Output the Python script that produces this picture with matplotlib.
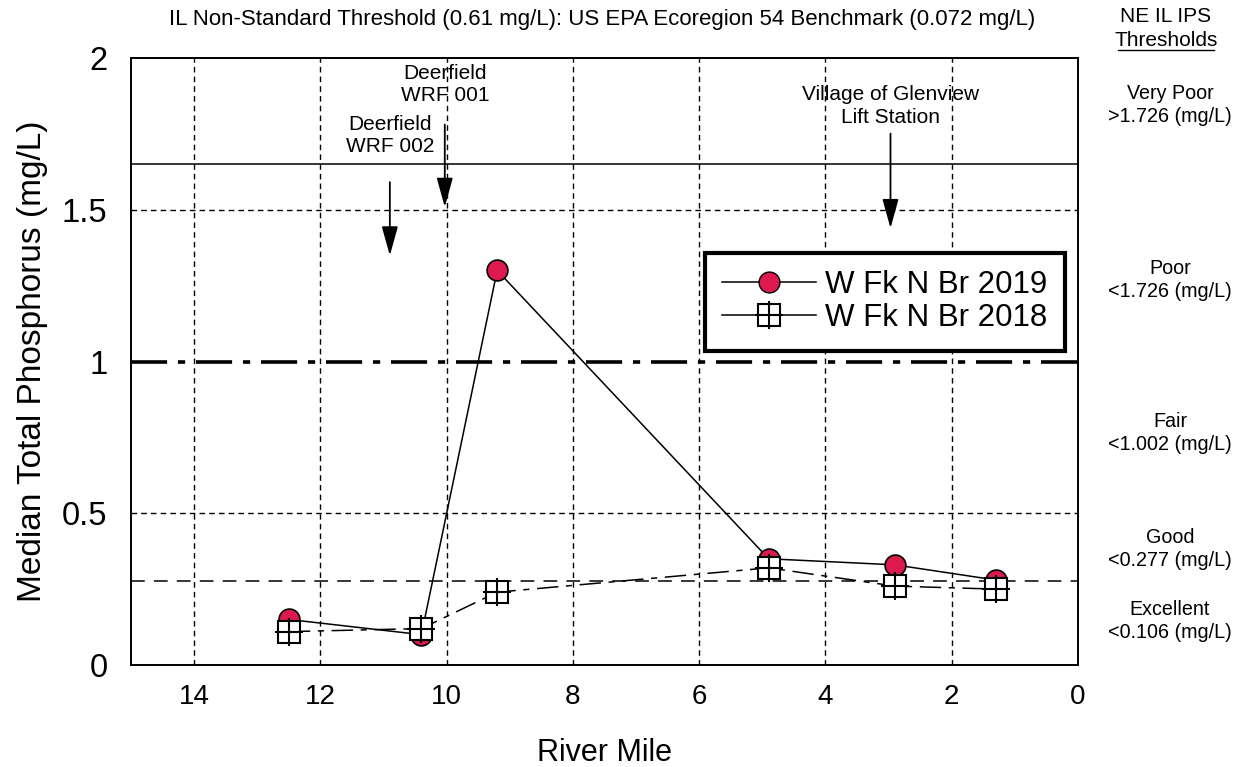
import numpy as np
import matplotlib
matplotlib.use('Agg')
import matplotlib.pyplot as plt

plt.rcParams['font.family'] = ['Liberation Sans', 'DejaVu Sans']

# river mile and median TP
miles = [12.5, 10.4, 9.2, 4.9, 2.9, 1.3]
tp_2019 = [0.15, 0.10, 1.30, 0.35, 0.33, 0.28]
tp_2018 = [0.11, 0.12, 0.24, 0.32, 0.26, 0.25]

# reference lines
line_solid = 1.65
line_dashdot = 1.0
line_good = 0.277

# outfall arrows: (label, mile, arrow start, arrow end, label y)
outfalls = [
    ('Deerfield\nWRF 002', 10.9, 1.60, 1.36, 1.745),
    ('Deerfield\nWRF 001', 10.03, 1.79, 1.52, 1.913),
    ('Village of Glenview\nLift Station', 2.97, 1.76, 1.45, 1.843),
]

# right side IPS categories and their vertical pixel centres
ips_labels = ['Very Poor\n>1.726 (mg/L)', 'Poor\n<1.726 (mg/L)', 'Fair\n<1.002 (mg/L)',
              'Good\n<0.277 (mg/L)', 'Excellent\n<0.106 (mg/L)']
ips_y = [105, 280, 433, 549, 621]

fig = plt.figure(figsize=(12.4, 7.67), dpi=100)
ax = fig.add_axes([131/1240, 1 - 665/767, (1078 - 131)/1240, (665 - 58)/767])

ax.set_xlim(15, 0)
ax.set_ylim(0, 2)
ax.set_xticks([14, 12, 10, 8, 6, 4, 2, 0])
ax.set_yticks([0, 0.5, 1, 1.5, 2])
ax.set_yticklabels(['0', '0.5', '1', '1.5', '2'])
ax.tick_params(axis='both', length=0)
ax.tick_params(axis='x', labelsize=20, pad=14)
ax.tick_params(axis='y', labelsize=23.5, pad=17)

for x in [14, 12, 10, 8, 6, 4, 2]:
    ax.axvline(x, color='black', lw=1, ls=(0, (4, 3)), zorder=1)
for y in [0.5, 1.5]:
    ax.axhline(y, color='black', lw=1, ls=(0, (4, 3)), zorder=1)

ax.axhline(line_solid, color='black', lw=1.1, zorder=1)
ax.axhline(line_dashdot, color='black', lw=2.6, ls=(0, (10, 3, 2, 3)), zorder=1)
ax.axhline(line_good, color='black', lw=1.1, ls=(0, (9, 6)), zorder=1)

for s in ax.spines.values():
    s.set_linewidth(1.4)
    s.set_color('black')

ax.plot(miles, tp_2019, color='black', lw=1.1, marker='o', ms=15,
        mfc='#dc1a50', mec='black', mew=1.2, zorder=3)
ax.plot(miles, tp_2018, color='black', lw=1.1, ls=(0, (14, 5, 4, 5)),
        marker='s', ms=16, mfc='white', mec='black', mew=1.5, zorder=4)
ax.plot(miles, tp_2018, ls='none', marker='+', ms=20, mec='black', mew=1.5, zorder=5)

for label, m, y0, y1, ty in outfalls:
    ax.annotate('', xy=(m, y1 - 0.02), xytext=(m, y0),
                arrowprops=dict(arrowstyle='-|>,head_width=0.5,head_length=1.8',
                                color='black', lw=1.3), zorder=6)
    ax.text(m, ty, label, ha='center', va='center', fontsize=15, linespacing=1.25, zorder=6)

# legend
h1, = ax.plot([], [], color='black', lw=1.1, marker='o', ms=15, mfc='#dc1a50', mec='black')
h2a, = ax.plot([], [], color='black', lw=1.1, marker='s', ms=16, mfc='white', mec='black', mew=1.5)
h2b, = ax.plot([], [], ls='none', marker='+', ms=20, mec='black', mew=1.5)
leg = ax.legend([h1, (h2a, h2b)], ['W Fk N Br 2019', 'W Fk N Br 2018'], loc='upper left',
                bbox_to_anchor=((705 - 131)/947, 1 - (253 - 58)/607), fontsize=22.5,
                frameon=True, fancybox=False, framealpha=1, edgecolor='black',
                handlelength=3.0, handletextpad=0.3, borderpad=0.55, labelspacing=0.1,
                borderaxespad=0)
leg.get_frame().set_linewidth(3)
leg.set_zorder(7)

ax.set_xlabel('River Mile', fontsize=22, labelpad=20)
ax.set_ylabel('Median Total Phosphorus (mg/L)', fontsize=24, labelpad=10)

fig.text(602/1240, 1 - 20/767,
         'IL Non-Standard Threshold (0.61 mg/L): US EPA Ecoregion 54 Benchmark (0.072 mg/L)',
         ha='center', va='center', fontsize=16)
fig.text(1166/1240, 1 - 17/767, 'NE IL IPS', ha='center', va='center', fontsize=15)
fig.text(1166/1240, 1 - 40/767, 'Thresholds', ha='center', va='center', fontsize=15)
fig.add_artist(plt.Line2D([1118/1240, 1214/1240], [1 - 50/767, 1 - 50/767], color='black', lw=1))

for t, yp in zip(ips_labels, ips_y):
    fig.text(1170/1240, 1 - yp/767, t, ha='center', va='center', fontsize=14.2, linespacing=1.3)

fig.savefig('out.png', dpi=100)
